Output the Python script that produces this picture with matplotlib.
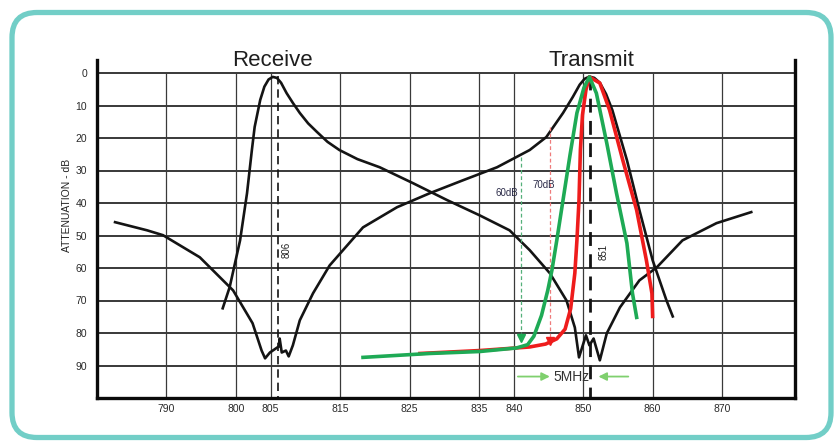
import matplotlib
matplotlib.use('Agg')
import matplotlib.pyplot as plt
from matplotlib.patches import FancyBboxPatch

# ── data (MHz, attenuation dB) ────────────────────────────────────────
rx_freq = [798.1, 799.1, 800.6, 801.6, 802.3, 802.7, 803.5, 804.1, 804.7, 805.3,
           805.9, 806.5, 807.3, 808.2, 809.2, 810.4, 811.7, 813.2, 814.9, 817.5,
           820.7, 825.5, 830.4, 835.1, 839.4, 842.3, 845.2, 847.6, 848.8, 849.4,
           850.4, 850.9, 851.5, 852.4, 853.4, 855.3, 858.1, 860.6, 864.3, 869.2,
           874.2]
rx_att = [72.4, 65.9, 51.5, 37.0, 23.7, 16.6, 8.3, 4.2, 2.0, 1.2,
          1.5, 3.0, 6.2, 9.2, 12.3, 15.5, 18.2, 21.2, 23.7, 26.5,
          29.0, 33.9, 39.1, 43.8, 48.4, 54.5, 61.6, 70.0, 78.3, 87.5,
          80.7, 83.8, 81.7, 88.4, 80.1, 72.1, 63.8, 59.8, 51.5, 46.2,
          42.8]

tx_freq = [782.6, 787.2, 789.5, 794.8, 799.6, 802.4, 803.7, 804.2, 804.9, 806.2,
           806.3, 806.6, 807.2, 807.6, 808.2, 809.2, 811.1, 813.5, 818.3, 823.2,
           827.9, 832.7, 837.6, 842.3, 844.7, 847.1, 848.5, 849.5, 850.2, 850.9,
           851.6, 852.4, 853.3, 854.2, 856.3, 858.1, 860.0, 862.0, 862.9]
tx_att = [45.9, 48.4, 49.9, 56.7, 66.9, 77.0, 85.4, 87.8, 86.0, 84.1,
          81.7, 86.0, 85.4, 87.2, 83.8, 76.1, 67.8, 59.2, 47.5, 41.3,
          37.0, 33.0, 29.0, 23.7, 19.7, 12.3, 7.4, 3.6, 1.8, 1.1,
          1.5, 3.0, 6.5, 11.4, 26.8, 42.2, 57.6, 70.0, 74.9]

green_freq = [818.3, 827.9, 835.1, 840.4, 842.0, 842.9, 844.0, 844.9, 845.5, 846.2,
              847.1, 848.1, 849.1, 850.1, 850.9, 851.9, 853.4, 854.8, 856.3, 857.1,
              857.7]
green_att = [87.5, 86.3, 85.7, 84.6, 83.6, 81.0, 74.6, 66.9, 60.7, 51.5,
             39.1, 25.3, 12.3, 4.6, 1.2, 6.2, 21.6, 37.0, 52.4, 67.8,
             75.2]

red_freq = [826.5, 835.1, 842.3, 844.6, 846.2, 847.4, 848.2, 848.8, 849.1, 849.4,
            849.6, 849.9, 850.4, 850.9, 852.4, 853.8, 855.7, 857.7, 859.1, 859.9,
            860.0]
red_att = [86.3, 85.4, 84.3, 83.4, 81.8, 78.8, 72.5, 61.6, 51.5, 39.1,
           23.7, 12.9, 5.2, 1.2, 3.1, 11.4, 26.8, 42.2, 57.6, 67.8,
           74.9]

x_ticks = [790, 800, 805, 815, 825, 835, 840, 850, 860, 870]
y_ticks = [0, 10, 20, 30, 40, 50, 60, 70, 80, 90]

# rejection markers: (freq, start dB, end dB, label)
rej_60 = (841.0, 25.9, 81.4, '60dB')
rej_70 = (845.2, 16.6, 82.6, '70dB')

BLACK = '#141414'
GREEN = '#1eaa55'
RED = '#ee1c1c'
LIGHT_GREEN = '#7fd06e'

fig = plt.figure(figsize=(8.39, 4.46), dpi=100)
fig.patch.set_facecolor('white')

# teal rounded frame (inches)
frame = FancyBboxPatch((0.12, 0.085), 8.19, 4.25,
                       boxstyle='round,pad=0,rounding_size=0.25',
                       transform=fig.dpi_scale_trans, facecolor='none',
                       edgecolor='#72cec7', linewidth=3.8)
fig.patches.append(frame)

ax = fig.add_axes([97 / 839, 48 / 446, 698 / 839, 338 / 446])
ax.set_xlim(780, 880.5)
ax.set_ylim(100, -4)

# grid
for y in y_ticks:
    ax.plot([780, 880.5], [y, y], color='#2a2a2a', lw=1.3, zorder=1)
ax.vlines(x_ticks, 0, 100, color='#3a3a3a', lw=0.9, zorder=1)

# marker frequencies
ax.vlines([806], 1.0, 100, color=BLACK, lw=1.2, linestyles=(0, (5, 3)), zorder=2)
ax.vlines([851], 1.0, 100, color=BLACK, lw=2.0, linestyles=(0, (5, 3)), zorder=2)
ax.text(807.3, 54.5, '806', rotation=90, fontsize=7, ha='center', va='center',
        color='#222222', family='Liberation Sans')
ax.text(852.9, 55.0, '851', rotation=90, fontsize=7, ha='center', va='center',
        color='#222222', family='Liberation Sans')

# filter responses
ax.plot(rx_freq, rx_att, color=BLACK, lw=1.9, solid_joinstyle='round', zorder=3)
ax.plot(tx_freq, tx_att, color=BLACK, lw=1.9, solid_joinstyle='round', zorder=3)
ax.plot(red_freq, red_att, color=RED, lw=2.6, solid_joinstyle='round', zorder=4)
ax.plot(green_freq, green_att, color=GREEN, lw=2.6, solid_joinstyle='round', zorder=5)

# rejection arrows
for (f, y0, y1, lbl), col, tcol in [(rej_60, '#55b07a', GREEN), (rej_70, '#ef7b7b', RED)]:
    ax.plot([f, f], [y0, y1 - 1.5], color=col, lw=0.9, ls=(0, (3, 2)), zorder=3)
    ax.plot([f], [y1], marker='v', color=tcol, markersize=6, zorder=6)
ax.text(840.6, 37.0, '60dB', fontsize=7, ha='right', va='center', color='#2b2b48',
        family='Liberation Sans', zorder=6)
ax.text(844.3, 34.5, '70dB', fontsize=7, ha='center', va='center', color='#2b2b48',
        family='Liberation Sans', zorder=6)

# 5 MHz span
ax.annotate('', xy=(845.2, 93.4), xytext=(840.6, 93.4),
            arrowprops=dict(arrowstyle='-|>', color=LIGHT_GREEN, lw=1.3,
                            mutation_scale=12, shrinkA=0, shrinkB=0))
ax.annotate('', xy=(852.2, 93.4), xytext=(856.5, 93.4),
            arrowprops=dict(arrowstyle='-|>', color=LIGHT_GREEN, lw=1.3,
                            mutation_scale=12, shrinkA=0, shrinkB=0))
ax.text(848.3, 93.4, '5MHz', fontsize=10, ha='center', va='center',
        color='#333333', family='Liberation Sans', zorder=6)

# section titles
ax.text(805.3, -2.0, 'Receive', fontsize=16, ha='center', va='baseline',
        color='#1e1e1e', family='Liberation Sans', clip_on=False)
ax.text(851.2, -2.0, 'Transmit', fontsize=16, ha='center', va='baseline',
        color='#1e1e1e', family='Liberation Sans', clip_on=False)

# axes styling
ax.set_xticks(x_ticks)
ax.set_xticklabels([str(v) for v in x_ticks], fontsize=7.5, family='Liberation Sans',
                   color='#2a2a2a')
ax.set_yticks(y_ticks)
ax.set_yticklabels([str(v) for v in y_ticks], fontsize=7.5, family='Liberation Sans',
                   color='#2a2a2a')
ax.tick_params(length=0)
ax.tick_params(axis='x', pad=4)
ax.tick_params(axis='y', pad=7)
ax.spines['top'].set_visible(False)
for side in ['left', 'right', 'bottom']:
    ax.spines[side].set_linewidth(2.4)
    ax.spines[side].set_color('#0a0a0a')

fig.text(67 / 839, 1 - 205 / 446, 'ATTENUATION - dB', rotation=90, fontsize=7.5,
         ha='center', va='center', color='#222222', family='Liberation Sans')

plt.savefig('out.png', dpi=100, facecolor=fig.get_facecolor())
plt.close()
